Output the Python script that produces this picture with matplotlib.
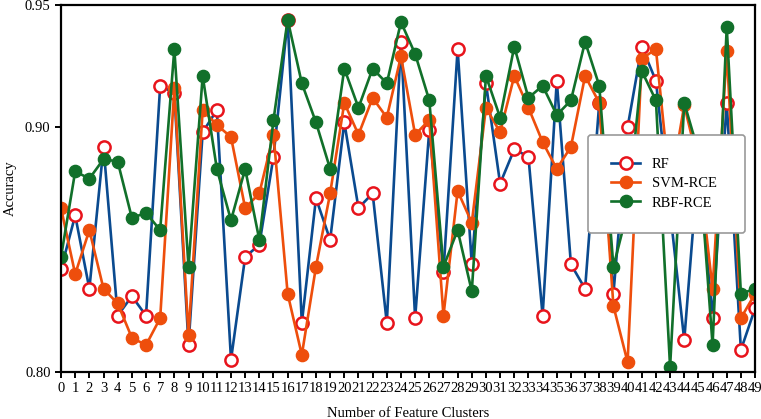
import matplotlib
matplotlib.use('Agg')
import matplotlib.pyplot as plt

clusters = list(range(50))

rf = [0.842, 0.864, 0.834, 0.892, 0.823, 0.831, 0.823, 0.917, 0.914, 0.811,
      0.898, 0.907, 0.805, 0.847, 0.852, 0.888, 0.944, 0.820, 0.871, 0.854,
      0.902, 0.867, 0.873, 0.820, 0.935, 0.822, 0.899, 0.841, 0.932, 0.844,
      0.918, 0.877, 0.891, 0.888, 0.823, 0.919, 0.844, 0.834, 0.910, 0.832,
      0.900, 0.933, 0.919, 0.866, 0.813, 0.886, 0.822, 0.910, 0.809, 0.826]

svm_rce = [0.867, 0.840, 0.858, 0.834, 0.828, 0.814, 0.811, 0.822, 0.916, 0.815,
           0.907, 0.901, 0.896, 0.867, 0.873, 0.897, 0.832, 0.807, 0.843, 0.873,
           0.910, 0.897, 0.912, 0.904, 0.929, 0.897, 0.903, 0.823, 0.874, 0.861,
           0.908, 0.898, 0.921, 0.908, 0.894, 0.883, 0.892, 0.921, 0.910, 0.827,
           0.804, 0.928, 0.932, 0.875, 0.909, 0.885, 0.834, 0.931, 0.822, 0.832]

rbf_rce = [0.847, 0.882, 0.879, 0.887, 0.886, 0.863, 0.865, 0.858, 0.932, 0.843,
           0.921, 0.883, 0.862, 0.883, 0.854, 0.903, 0.944, 0.918, 0.902, 0.883,
           0.924, 0.908, 0.924, 0.918, 0.943, 0.930, 0.911, 0.843, 0.858, 0.833,
           0.921, 0.904, 0.933, 0.912, 0.917, 0.905, 0.911, 0.935, 0.917, 0.843,
           0.866, 0.923, 0.911, 0.802, 0.910, 0.890, 0.811, 0.941, 0.832, 0.834]

plt.rcParams['font.family'] = ['Liberation Serif', 'DejaVu Serif']

fig = plt.figure(figsize=(7.61, 4.19), dpi=100)
ax = fig.add_axes([0.0802, 0.1122, 0.912, 0.876])

ax.plot(clusters, rf, color='#0a4a8f', lw=1.9, marker='o', ms=8.8,
        mfc='white', mec='#e8141c', mew=1.8, label='RF')
ax.plot(clusters, svm_rce, color='#ee4e0c', lw=1.9, marker='o', ms=8.8,
        mfc='#ee4e0c', mec='#ee4e0c', label='SVM-RCE')
ax.plot(clusters, rbf_rce, color='#11702a', lw=1.9, marker='o', ms=8.8,
        mfc='#11702a', mec='#11702a', label='RBF-RCE')

ax.set_xlim(0, 49)
ax.set_ylim(0.80, 0.95)
ax.set_xticks(clusters)
ax.set_xticklabels([str(c) for c in clusters], fontsize=10.5)
ax.set_yticks([0.80, 0.90, 0.95])
ax.set_yticklabels(['0.80', '0.90', '0.95'], fontsize=10.5)
ax.tick_params(direction='out', length=4.5, width=1.4, pad=3)
for sp in ax.spines.values():
    sp.set_linewidth(1.6)

ax.set_xlabel('Number of Feature Clusters', fontsize=10.5, labelpad=8)
ax.set_ylabel('Accuracy', fontsize=10.5, labelpad=6)

leg = ax.legend(loc='upper left', bbox_to_anchor=(0.759, 0.646, 0.227, 0.0),
                mode='expand', borderaxespad=0, fontsize=10.5, borderpad=1.6,
                labelspacing=0.4, handlelength=2.0, handletextpad=0.8,
                fancybox=True, framealpha=1)
leg.get_frame().set_edgecolor('0.6')
leg.get_frame().set_linewidth(1.2)

fig.savefig('out.png', dpi=100)
